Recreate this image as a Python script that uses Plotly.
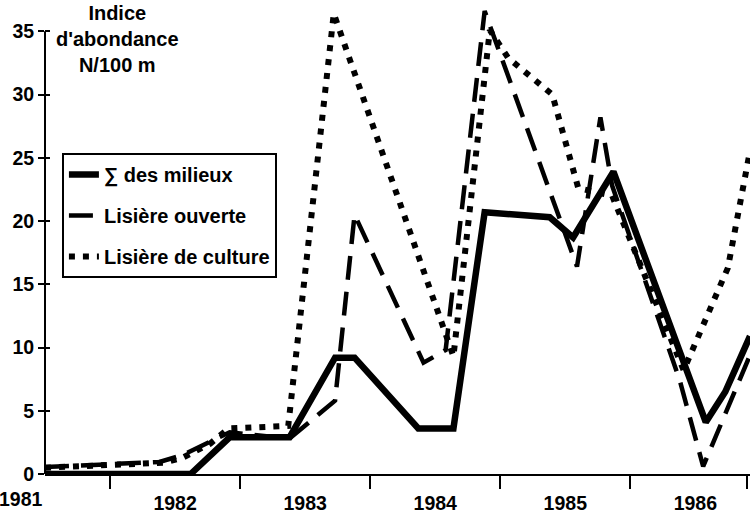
import plotly.graph_objects as go

# ---- data ----
series_names = ["\u2211 des milieux", "Lisi\u00e8re ouverte", "Lisi\u00e8re de culture"]

sum_x = [1981.0, 1982.12, 1982.42, 1982.88, 1983.23, 1983.38, 1983.87, 1984.14,
         1984.38, 1984.88, 1985.06, 1985.37, 1986.08, 1986.23, 1986.42]
sum_y = [0, 0, 2.9, 2.9, 9.2, 9.2, 3.6, 3.6, 20.7, 20.3, 18.7, 23.9, 4.1, 6.5, 10.9]

open_x = [1981.0, 1981.88, 1982.06, 1982.42, 1982.88, 1983.23, 1983.38, 1983.91,
          1984.08, 1984.38, 1985.09, 1985.27, 1985.36, 1985.88, 1986.06, 1986.42]
open_y = [0.55, 0.95, 1.5, 3.3, 2.8, 5.8, 20.5, 8.8, 9.8, 36.6, 16.4, 28.2, 22.8,
          7.4, 0.6, 9.4]

crop_x = [1981.0, 1981.92, 1982.06, 1982.27, 1982.41, 1982.87, 1983.22, 1984.14,
          1984.42, 1984.56, 1984.9, 1985.1, 1985.36, 1985.91, 1986.25, 1986.41]
crop_y = [0.5, 0.9, 1.3, 2.4, 3.6, 3.8, 36.4, 9.3, 35.1, 32.9, 30.0, 22.6, 22.0,
          8.2, 16.3, 25.0]

year_vals = [1981, 1982, 1983, 1984, 1985, 1986]
year_labels = ["1981", "1982", "1983", "1984", "1985", "1986"]
half_ticks = [1981.5, 1982.5, 1983.5, 1984.5, 1985.5, 1986.4]
y_ticks = [0, 5, 10, 15, 20, 25, 30, 35]
y_title = "Indice<br>d'abondance<br>N/100 m"

X_RANGE = [1981, 1986.42]
Y_RANGE = [0, 37]      # headroom so the peaks above 35 are not clipped
Y_AXIS_TOP = 35        # visible axis line stops at the last tick

FONT = "Liberation Sans, Arial, sans-serif"

fig = go.Figure()
fig.add_trace(go.Scatter(x=sum_x, y=sum_y, mode="lines", name=series_names[0],
                         legendgroup="a", cliponaxis=False, hoverinfo="skip",
                         line=dict(color="black", width=6.5)))
fig.add_trace(go.Scatter(x=open_x, y=open_y, mode="lines", name=series_names[1],
                         legendgroup="b", cliponaxis=False, hoverinfo="skip",
                         line=dict(color="black", width=4.5, dash="24px,12px")))
fig.add_trace(go.Scatter(x=crop_x, y=crop_y, mode="lines", name=series_names[2],
                         legendgroup="c", cliponaxis=False, hoverinfo="skip",
                         xaxis="x2", yaxis="y2",
                         line=dict(color="black", width=6, dash="6px,8px")))

fig.update_layout(
    width=750, height=514,
    margin=dict(l=45, r=0, t=6, b=40),
    paper_bgcolor="white", plot_bgcolor="white",
    font=dict(family=FONT, color="black", size=20, weight="bold"),
    showlegend=True,
    legend=dict(x=0.024, y=0.6859, xanchor="left", yanchor="top",
                bordercolor="black", borderwidth=2, bgcolor="white",
                font=dict(family=FONT, size=20, color="black", weight="bold"),
                tracegroupgap=12, itemwidth=30),
    xaxis=dict(range=X_RANGE, tickvals=year_vals[1:], ticktext=year_labels[1:],
               ticks="outside", ticklen=11, tickcolor="rgba(0,0,0,0)",
               showline=True, linecolor="black", linewidth=2,
               showgrid=False, zeroline=False,
               tickfont=dict(family=FONT, size=19.5, color="black", weight="bold")),
    xaxis2=dict(range=X_RANGE, overlaying="x", anchor="y", side="bottom",
                tickvals=half_ticks, ticks="outside", ticklen=14, tickwidth=2,
                tickcolor="black", showticklabels=False, showline=False,
                showgrid=False, zeroline=False),
    yaxis=dict(range=Y_RANGE, tickvals=y_ticks, ticks="outside", ticklen=6,
               tickwidth=2, tickcolor="black", showline=False,
               showgrid=False, zeroline=False,
               tickfont=dict(family=FONT, size=19.5, color="black", weight="bold")),
    yaxis2=dict(range=Y_RANGE, overlaying="y", anchor="x", side="left",
                tickvals=y_ticks, ticks="inside", ticklen=5, tickwidth=2,
                tickcolor="black", showticklabels=False, showline=False,
                showgrid=False, zeroline=False),
)

# y axis line, stopping at the top tick
fig.add_shape(type="line", xref="paper", yref="y", x0=0, x1=0,
              y0=Y_RANGE[0], y1=Y_AXIS_TOP, line=dict(color="black", width=2))

fig.add_annotation(text=y_title, xref="paper", yref="paper", x=0.1035, y=0.9295,
                   xanchor="center", yanchor="middle", showarrow=False,
                   font=dict(family=FONT, size=20, color="black", weight="bold"))
fig.add_annotation(text=year_labels[0], xref="x", yref="paper", x=year_vals[0],
                   y=-0.0534, xanchor="right", yanchor="middle", showarrow=False,
                   font=dict(family=FONT, size=19.5, color="black", weight="bold"))

fig.write_html("out.html", config={"displayModeBar": False},
               post_script="document.body.style.margin='0';")
